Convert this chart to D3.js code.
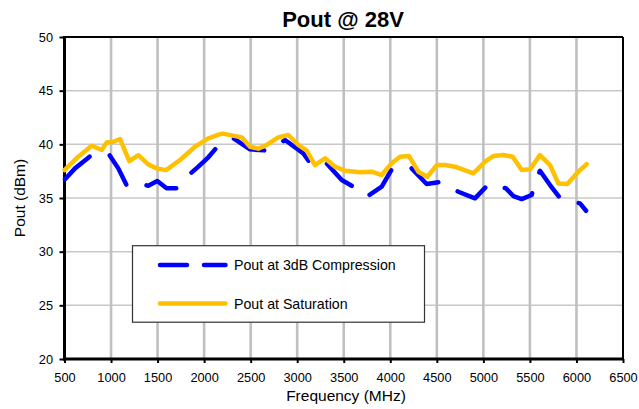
<!DOCTYPE html>
<html>
<head>
<meta charset="utf-8">
<script src="https://cdn.jsdelivr.net/npm/d3@7"></script>
<style>
  html, body { margin: 0; padding: 0; background: #fff; }
  svg { display: block; font-family: "Liberation Sans", Arial, sans-serif; }
</style>
</head>
<body>
<svg id="chart" width="639" height="409"></svg>
<script>
// ---- data ----
const title = "Pout @ 28V";
const xTitle = "Frequency (MHz)";
const yTitle = "Pout (dBm)";
const xTicks = [500, 1000, 1500, 2000, 2500, 3000, 3500, 4000, 4500, 5000, 5500, 6000, 6500];
const yTicks = [20, 25, 30, 35, 40, 45, 50];
const seriesNames = ["Pout at 3dB Compression", "Pout at Saturation"];

// Pout at 3dB Compression: [MHz, dBm]
const compFreq = [505, 613, 702, 792, 971, 1078, 1175, 1329, 1400, 1497, 1597, 1705, 1856, 1938, 2045, 2142,
  2314, 2493, 2690, 2869, 3066, 3156, 3299, 3478, 3603, 3747, 3908, 4015, 4212, 4391, 4552, 4731, 4910, 5064,
  5243, 5322, 5412, 5519, 5537, 5608, 5716, 5841, 6038, 6103];
const compPout = [36.74, 37.76, 38.38, 39.0, 39.16, 37.76, 36.05, 36.3, 36.14, 36.58, 35.9, 35.9, 37.3, 37.92, 38.79, 39.78,
  40.56, 39.53, 39.41, 40.4, 39.16, 38.07, 38.38, 36.67, 36.05, 35.12, 36.05, 37.67, 37.92, 36.3, 36.51, 35.58, 34.97, 36.36,
  35.9, 35.18, 34.9, 35.28, 35.9, 37.54, 36.21, 34.81, 34.5, 33.81];

// Pout at Saturation: [MHz, dBm]
const satFreq = [500, 648, 792, 900, 953, 1025, 1096, 1196, 1293, 1400, 1490, 1590, 1741, 1902, 2045, 2163, 2200,
  2404, 2493, 2582, 2672, 2797, 2904, 3012, 3102, 3191, 3299, 3406, 3514, 3675, 3800, 3908, 4015, 4105, 4201,
  4301, 4398, 4499, 4588, 4695, 4892, 5017, 5107, 5214, 5315, 5412, 5501, 5608, 5716, 5805, 5902, 6020, 6110];
const satPout = [37.6, 38.85, 39.87, 39.47, 40.18, 40.24, 40.5, 38.44, 39.0, 38.13, 37.76, 37.6, 38.54, 39.78, 40.56, 40.93, 41.0,
  40.65, 39.78, 39.6, 39.94, 40.65, 40.87, 39.94, 39.41, 38.07, 38.7, 37.92, 37.54, 37.39, 37.45, 37.14, 38.23, 38.85, 38.91,
  37.45, 36.98, 38.07, 38.07, 37.92, 37.3, 38.38, 38.91, 39.0, 38.85, 37.6, 37.67, 39.0, 38.07, 36.36, 36.3, 37.45, 38.16];

// ---- layout ----
const svg = d3.select("#chart");
const L = 64.5, R = 623, T = 37, B = 359;
const x = d3.scaleLinear().domain([500, 6500]).range([L, R]);
const y = d3.scaleLinear().domain([20, 50]).range([B, T]);

// gridlines
svg.append("g").selectAll("line").data(yTicks.filter(d => d > 20 && d < 50)).join("line")
  .attr("x1", L).attr("x2", R).attr("y1", d => y(d)).attr("y2", d => y(d))
  .attr("stroke", "#c8c8c8").attr("stroke-width", 1.5);
svg.append("g").selectAll("line").data(xTicks.filter(d => d > 500 && d < 6500)).join("line")
  .attr("x1", d => x(d)).attr("x2", d => x(d)).attr("y1", T).attr("y2", B)
  .attr("stroke", "#c0c0c0").attr("stroke-width", 2.6);

// axes
const xAxis = svg.append("g").attr("transform", `translate(0,${B})`)
  .call(d3.axisBottom(x).tickValues(xTicks).tickFormat(d3.format("d")).tickSize(4).tickSizeOuter(0));
xAxis.select(".domain").remove();
xAxis.selectAll(".tick line").attr("stroke", "#000").attr("stroke-width", 2);
xAxis.selectAll(".tick text").attr("y", 13.5).attr("font-size", 12.8).attr("fill", "#000")
  .attr("font-family", "Liberation Sans, Arial, sans-serif");

const yAxis = svg.append("g").attr("transform", `translate(${L},0)`)
  .call(d3.axisLeft(y).tickValues(yTicks).tickSize(5).tickSizeOuter(0));
yAxis.select(".domain").remove();
yAxis.selectAll(".tick line").attr("stroke", "#000").attr("stroke-width", 2);
yAxis.selectAll(".tick text").attr("x", -11.5).attr("font-size", 12.8).attr("fill", "#000")
  .attr("font-family", "Liberation Sans, Arial, sans-serif");

// frame
svg.append("line").attr("x1", L).attr("x2", R).attr("y1", T).attr("y2", T).attr("stroke", "#000").attr("stroke-width", 2);
svg.append("line").attr("x1", R).attr("x2", R).attr("y1", T).attr("y2", B).attr("stroke", "#000").attr("stroke-width", 2);
svg.append("line").attr("x1", L).attr("x2", L).attr("y1", T - 1).attr("y2", B + 1.5).attr("stroke", "#000").attr("stroke-width", 3);
svg.append("line").attr("x1", L - 1.5).attr("x2", R + 1).attr("y1", B).attr("y2", B).attr("stroke", "#000").attr("stroke-width", 3);

// series
const line = d3.line().x(d => x(d[0])).y(d => y(d[1]));
const compData = compFreq.map((f, i) => [f, compPout[i]]);
const satData = satFreq.map((f, i) => [f, satPout[i]]);

svg.append("path").datum(compData).attr("d", line)
  .attr("fill", "none").attr("stroke", "#0000ff").attr("stroke-width", 4.5)
  .attr("stroke-linecap", "round").attr("stroke-linejoin", "round")
  .attr("stroke-dasharray", "33.5,22");
svg.append("path").datum(satData).attr("d", line)
  .attr("fill", "none").attr("stroke", "#ffc000").attr("stroke-width", 4.5)
  .attr("stroke-linecap", "round").attr("stroke-linejoin", "round");

// titles
svg.append("text").attr("x", 343).attr("y", 27).attr("text-anchor", "middle")
  .attr("font-size", 22).attr("font-weight", "bold").text(title);
svg.append("text").attr("x", 346).attr("y", 401).attr("text-anchor", "middle")
  .attr("font-size", 15.5).text(xTitle);
svg.append("text").attr("transform", `translate(24.5,198) rotate(-90)`).attr("text-anchor", "middle")
  .attr("font-size", 15.5).text(yTitle);

// legend
const lg = svg.append("g");
lg.append("rect").attr("x", 132.5).attr("y", 245.7).attr("width", 292).attr("height", 76.5)
  .attr("fill", "#fff").attr("stroke", "#333").attr("stroke-width", 1.2);
const legendY = [265, 303.5];
const legendStyles = [
  { color: "#0000ff", dash: "27,17" },
  { color: "#ffc000", dash: null }
];
seriesNames.forEach((name, i) => {
  lg.append("line").attr("x1", 160).attr("x2", 225.5).attr("y1", legendY[i]).attr("y2", legendY[i])
    .attr("stroke", legendStyles[i].color).attr("stroke-width", 4.5).attr("stroke-linecap", "round")
    .attr("stroke-dasharray", legendStyles[i].dash);
  lg.append("text").attr("x", 234).attr("y", legendY[i] + 5.3).attr("font-size", 14.2).text(name);
});
</script>
</body>
</html>
